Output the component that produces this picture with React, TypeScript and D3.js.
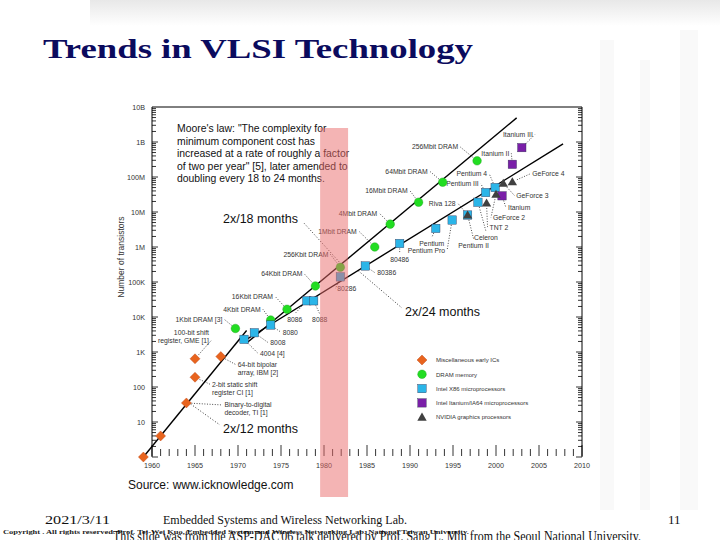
import * as d3 from 'd3';
import { useEffect, useRef } from 'react';

const SANS = "'Liberation Sans', Arial, sans-serif";
const SERIF = "'Liberation Serif', 'Times New Roman', serif";

const TITLE = 'Trends in VLSI Technology';

// [label, year, transistor count]
const MISC_ICS: any[] = [
    ['', 1959, 1],
    ['', 1961, 4],
    ['Binary-to-digital|decoder, TI [1]', 1964, 35],
    ['2-bit static shift|register CI [1]', 1965, 190],
    ['100-bit shift|register, GME [1]', 1965, 640],
    ['64-bit bipolar|array, IBM [2]', 1968, 740],
];

const DRAM: any[] = [
    ['1Kbit DRAM [3]', 1969.7, 4700],
    ['4Kbit DRAM', 1973.8, 8200],
    ['16Kbit DRAM', 1975.7, 16600],
    ['64Kbit DRAM', 1979, 77000],
    ['256Kbit DRAM', 1981.9, 263000],
    ['1Mbit DRAM', 1985.9, 1.0e6],
    ['4Mbit DRAM', 1987.7, 4.5e6],
    ['16Mbit DRAM', 1991, 1.9e7],
    ['64Mbit DRAM', 1993.8, 7.1e7],
    ['256Mbit DRAM', 1997.8, 2.9e8],
];

const INTEL_X86: any[] = [
    ['4004 [4]', 1970.7, 2300],
    ['8008', 1971.9, 3550],
    ['8080', 1973.8, 5900],
    ['8086', 1978, 29000],
    ['8088', 1978.8, 29000],
    ['80286', 1981.9, 140000],
    ['80386', 1984.8, 287000],
    ['80486', 1988.8, 1.26e6],
    ['Pentium', 1993, 3.4e6],
    ['Pentium Pro', 1994.9, 5.9e6],
    ['Pentium II', 1996.7, 8.2e6],
    ['Celeron', 1997.9, 1.9e7],
    ['Pentium III', 1998.8, 3.6e7],
    ['Pentium 4', 1999.9, 5.0e7],
];

const ITANIUM: any[] = [
    ['Itanium', 2000.7, 2.9e7],
    ['Itanium II', 2001.9, 2.3e8],
    ['Itanium III', 2003, 6.9e8],
];

const NVIDIA: any[] = [
    ['Riva 128', 1996.7, 8.2e6],
    ['TNT 2', 1998.9, 1.8e7],
    ['GeForce 2', 2000, 3.2e7],
    ['GeForce 3', 2000.85, 6.6e7],
    ['GeForce 4', 2001.9, 7.3e7],
];

// trend lines: [start, end] as [year, count]
const TREND_12 = [[1959, 1], [1971, 4096]];
const TREND_18 = [[1971, 1800], [2002.4, 4.9e9]];
const TREND_24 = [[1971, 2300], [2007.8, 8.8e8]];

const Y_TICK_LABELS = ['1', '10', '100', '1K', '10K', '100K', '1M', '10M', '100M', '1B', '10B'];
const X_TICK_LABELS = [1960, 1965, 1970, 1975, 1980, 1985, 1990, 1995, 2000, 2005, 2010];

const LEGEND = [
    ['Miscellaneous early ICs', 'diamond', '#e8641e'],
    ['DRAM memory', 'circle', '#22dd22'],
    ['Intel X86 microprocessors', 'square', '#2bb5e8'],
    ['Intel Itanium/IA64 microprocessors', 'square', '#7a1fa8'],
    ['NVIDIA graphics processors', 'triangle', '#404040'],
];

const MOORE_TEXT = [
    'Moore\'s law: "The complexity for',
    'minimum component cost has',
    'increased at a rate of roughly a factor',
    'of two per year" [5], later amended to',
    'doubling every 18 to 24 months.',
];

// label placement relative to its marker: [dx, dy, anchor]
const LABEL_LAYOUT: any = {
    'Binary-to-digital|decoder, TI [1]': [38, 2, 'start'],
    '2-bit static shift|register CI [1]': [17, 7, 'start'],
    '100-bit shift|register, GME [1]': [14, -26, 'end'],
    '64-bit bipolar|array, IBM [2]': [17, 8, 'start'],
    '1Kbit DRAM [3]': [-13, -9, 'end'],
    '4Kbit DRAM': [-10, -11, 'end'],
    '16Kbit DRAM': [-14, -13, 'end'],
    '64Kbit DRAM': [-13, -12, 'end'],
    '256Kbit DRAM': [-12, -13, 'end'],
    '1Mbit DRAM': [-18, -16, 'end'],
    '4Mbit DRAM': [-13, -11, 'end'],
    '16Mbit DRAM': [-11, -12, 'end'],
    '64Mbit DRAM': [-15, -11, 'end'],
    '256Mbit DRAM': [-19, -14, 'end'],
    '4004 [4]': [16, 14, 'start'],
    '8008': [16, 10, 'start'],
    '8080': [12, 7, 'start'],
    '8086': [-12, 19, 'middle'],
    '8088': [6, 19, 'middle'],
    '80286': [-3, 12, 'start'],
    '80386': [12, 7, 'start'],
    '80486': [0, 16, 'middle'],
    'Pentium': [-4, 15, 'middle'],
    'Pentium Pro': [-7, 30, 'end'],
    'Pentium II': [6, 30, 'middle'],
    'Celeron': [8, 35, 'middle'],
    'Pentium III': [-7, -9, 'end'],
    'Pentium 4': [-8, -14, 'end'],
    'Itanium': [6, 12, 'start'],
    'Itanium II': [-3, -11, 'end'],
    'Itanium III': [11, -13, 'end'],
    'Riva 128': [-12, -12, 'end'],
    'TNT 2': [3, 24, 'start'],
    'GeForce 2': [-3, 23, 'start'],
    'GeForce 3': [13, 12, 'start'],
    'GeForce 4': [20, -8, 'start'],
};

export default function App() {
    const ref = useRef<any>(null);

    useEffect(() => {
        const svg = d3.select(ref.current);
        svg.selectAll('*').remove();

        const x = d3.scaleLinear().domain([1960, 2010]).range([152, 582]);
        const y = d3.scaleLog().domain([1, 1e10]).range([457, 107]);

        // faint background watermark
        const defs = svg.append('defs');
        const g1 = defs.append('linearGradient').attr('id', 'topfade').attr('x1', 0).attr('y1', 0).attr('x2', 0).attr('y2', 1);
        g1.append('stop').attr('offset', '0%').attr('stop-color', '#e8e8e8');
        g1.append('stop').attr('offset', '100%').attr('stop-color', '#ffffff');
        svg.append('rect').attr('width', 720).attr('height', 540).attr('fill', '#fff');
        svg.append('rect').attr('x', 90).attr('y', 0).attr('width', 630).attr('height', 26).attr('fill', 'url(#topfade)');
        [[600, 40, 14, 470], [640, 60, 10, 450], [680, 30, 18, 480]].forEach((r) => {
            svg.append('rect').attr('x', r[0]).attr('y', r[1]).attr('width', r[2]).attr('height', r[3]).attr('fill', '#f9f9f9');
        });

        // title
        svg.append('text')
            .attr('x', 43).attr('y', 58)
            .attr('font-family', SERIF).attr('font-weight', 'bold')
            .attr('font-size', 28).attr('fill', '#0b0b5e')
            .attr('textLength', 430).attr('lengthAdjust', 'spacingAndGlyphs')
            .text(TITLE);

        const chart = svg.append('g');

        // frame
        chart.append('line').attr('x1', x(1960)).attr('x2', x(2010)).attr('y1', y(1e10)).attr('y2', y(1e10)).attr('stroke', '#000');
        chart.append('line').attr('x1', x(1960)).attr('x2', x(1960)).attr('y1', y(1e10)).attr('y2', y(1)).attr('stroke', '#000');
        chart.append('line').attr('x1', x(2010)).attr('x2', x(2010)).attr('y1', y(1e10)).attr('y2', y(1)).attr('stroke', '#000');

        // log ticks on both sides
        for (let e = 0; e < 10; e++) {
            for (let m = 1; m < 10; m++) {
                const yy = y(m * Math.pow(10, e));
                const len = m === 1 ? 6 : 4;
                chart.append('line').attr('x1', x(1960)).attr('x2', x(1960) + len).attr('y1', yy).attr('y2', yy).attr('stroke', '#000').attr('stroke-width', 0.8);
                chart.append('line').attr('x1', x(2010)).attr('x2', x(2010) - len).attr('y1', yy).attr('y2', yy).attr('stroke', '#000').attr('stroke-width', 0.8);
            }
        }
        Y_TICK_LABELS.forEach((t, i) => {
            chart.append('text')
                .attr('x', 145).attr('y', y(Math.pow(10, i)) + 2.5)
                .attr('text-anchor', 'end').attr('font-family', SANS).attr('font-size', 7.2).attr('fill', '#333')
                .text(t);
        });
        chart.append('text')
            .attr('transform', `translate(124, 257) rotate(-90)`)
            .attr('text-anchor', 'middle').attr('font-family', SANS).attr('font-size', 8.5).attr('fill', '#333')
            .text('Number of transistors');

        // year ticks
        d3.range(1960, 2011).forEach((yr) => {
            const len = yr % 5 === 0 ? 11 : 7;
            chart.append('line').attr('x1', x(yr)).attr('x2', x(yr)).attr('y1', 456).attr('y2', 456 - len).attr('stroke', '#000').attr('stroke-width', 0.8);
        });
        X_TICK_LABELS.forEach((yr) => {
            chart.append('text')
                .attr('x', x(yr)).attr('y', 468)
                .attr('text-anchor', 'middle').attr('font-family', SANS).attr('font-size', 7.2).attr('fill', '#333')
                .text(yr);
        });

        // trend lines
        const line = d3.line<any>().x((d) => x(d[0])).y((d) => y(d[1]));
        [TREND_12, TREND_18, TREND_24].forEach((t) => {
            chart.append('path').attr('d', line(t)).attr('fill', 'none').attr('stroke', '#000').attr('stroke-width', 1.4);
        });

        // trend labels with dotted leaders
        const trendLabels: any[] = [
            ['2x/12 months', 1964.2, Math.pow(2, 5.2), 220, 425, 223, 433, 'start'],
            ['2x/18 months', 1982, 1800 * Math.pow(10, 0.205 * 11), 303, 222, 298, 223, 'end'],
            ['2x/24 months', 1984, 2300 * Math.pow(2, 6.5), 402, 308, 405, 316, 'start'],
        ];
        trendLabels.forEach((t) => {
            chart.append('line')
                .attr('x1', x(t[1])).attr('y1', y(t[2])).attr('x2', t[3]).attr('y2', t[4])
                .attr('stroke', '#000').attr('stroke-width', 0.8).attr('stroke-dasharray', '1,2');
            chart.append('text')
                .attr('x', t[5]).attr('y', t[6]).attr('text-anchor', t[7])
                .attr('font-family', SANS).attr('font-size', 12.5).attr('fill', '#111')
                .text(t[0]);
        });

        // Moore's law text
        MOORE_TEXT.forEach((s, i) => {
            chart.append('text')
                .attr('x', 177).attr('y', 132 + i * 12.6)
                .attr('font-family', SANS).attr('font-size', 10.4).attr('fill', '#111')
                .text(s);
        });

        const series: any[] = [
            [MISC_ICS, 'diamond', '#e8641e'],
            [DRAM, 'circle', '#22dd22'],
            [INTEL_X86, 'square', '#2bb5e8'],
            [ITANIUM, 'square', '#7a1fa8'],
            [NVIDIA, 'triangle', '#404040'],
        ];

        // point labels + leaders
        const labels = chart.append('g');
        series.forEach(([data]) => {
            data.forEach((d: any) => {
                const lay = LABEL_LAYOUT[d[0]];
                if (!d[0] || !lay) return;
                const mx = x(d[1]);
                const my = y(d[2]);
                const lx = mx + lay[0];
                const ly = my + lay[1];
                const lines = d[0].split('|');
                lines.forEach((s: string, i: number) => {
                    labels.append('text')
                        .attr('x', lx).attr('y', ly + 2.5 + i * 8)
                        .attr('text-anchor', lay[2])
                        .attr('font-family', SANS).attr('font-size', 6.8).attr('fill', '#333')
                        .text(s);
                });
                let tx = lx;
                let ty = lay[1] < 0 ? ly + (lines.length - 1) * 8 : ly;
                if (lay[2] === 'end') tx = lx + 2;
                else if (lay[2] === 'start') tx = lx - 2;
                else ty = lay[1] > 0 ? ly - 6 : ly + 3;
                const dist = Math.hypot(tx - mx, ty - my);
                if (dist < 8) return;
                const ux = (tx - mx) / dist;
                const uy = (ty - my) / dist;
                labels.append('line')
                    .attr('x1', mx + ux * 5).attr('y1', my + uy * 5).attr('x2', tx).attr('y2', ty)
                    .attr('stroke', '#000').attr('stroke-width', 0.7).attr('stroke-dasharray', '1,1.6');
            });
        });

        // markers
        const drawMarker = (g: any, shape: string, color: string, cx: number, cy: number) => {
            if (shape === 'circle') {
                g.append('circle').attr('cx', cx).attr('cy', cy).attr('r', 4.3).attr('fill', color).attr('stroke', '#1aa01a').attr('stroke-width', 0.4);
            } else if (shape === 'square') {
                g.append('rect').attr('x', cx - 4.2).attr('y', cy - 4.2).attr('width', 8.4).attr('height', 8.4).attr('fill', color).attr('stroke', '#335').attr('stroke-width', 0.4);
            } else if (shape === 'diamond') {
                g.append('path').attr('d', `M${cx},${cy - 5}L${cx + 5},${cy}L${cx},${cy + 5}L${cx - 5},${cy}Z`).attr('fill', color).attr('stroke', '#b84010').attr('stroke-width', 0.4);
            } else {
                g.append('path').attr('d', d3.symbol().type(d3.symbolTriangle).size(38)()).attr('transform', `translate(${cx},${cy + 0.8})`).attr('fill', color);
            }
        };
        const marks = chart.append('g');
        series.forEach(([data, shape, color]) => {
            data.forEach((d: any) => drawMarker(marks, shape, color, x(d[1]), y(d[2])));
        });

        // legend
        LEGEND.forEach((l, i) => {
            const ly = 360 + i * 14.3;
            drawMarker(chart, l[1], l[2], 422, ly);
            chart.append('text')
                .attr('x', 436).attr('y', ly + 2.2)
                .attr('font-family', SANS).attr('font-size', 6).attr('fill', '#333')
                .text(l[0]);
        });

        // highlighted band around 1980-82
        chart.append('rect')
            .attr('x', x(1979.55)).attr('y', 128)
            .attr('width', x(1982.8) - x(1979.55)).attr('height', 369)
            .attr('fill', '#e96969').attr('opacity', 0.5);

        // source
        svg.append('text')
            .attr('x', 128).attr('y', 489)
            .attr('font-family', SANS).attr('font-size', 12).attr('fill', '#111')
            .text('Source: www.icknowledge.com');

        // footer
        svg.append('text').attr('x', 45).attr('y', 524)
            .attr('font-family', SERIF).attr('font-size', 13).attr('fill', '#111')
            .attr('textLength', 65).attr('lengthAdjust', 'spacingAndGlyphs')
            .text('2021/3/11');
        svg.append('text').attr('x', 163).attr('y', 524)
            .attr('font-family', SERIF).attr('font-size', 13).attr('fill', '#111')
            .attr('textLength', 244).attr('lengthAdjust', 'spacingAndGlyphs')
            .text('Embedded Systems and Wireless Networking Lab.');
        svg.append('text').attr('x', 668).attr('y', 524)
            .attr('font-family', SERIF).attr('font-size', 13).attr('fill', '#111')
            .text('11');
        svg.append('text').attr('x', 3).attr('y', 534)
            .attr('font-family', SERIF).attr('font-size', 7).attr('font-weight', 'bold').attr('fill', '#222')
            .attr('textLength', 466).attr('lengthAdjust', 'spacingAndGlyphs')
            .text('Copyright . All rights reserved. Prof. Tei-Wei Kuo, Embedded System and Wireless Networking Lab. National Taiwan University.');
        svg.append('text').attr('x', 113).attr('y', 541)
            .attr('font-family', SERIF).attr('font-size', 14).attr('fill', '#111')
            .attr('textLength', 528).attr('lengthAdjust', 'spacingAndGlyphs')
            .text('This slide was from the ASP-DAC\'06 talk delivered by Prof. Sang L. Min from the Seoul National University.');
    }, []);

    return (
        <svg ref={ref} width={720} height={540} style={{ position: 'absolute', left: 0, top: 0, display: 'block' }}></svg>
    );
}
